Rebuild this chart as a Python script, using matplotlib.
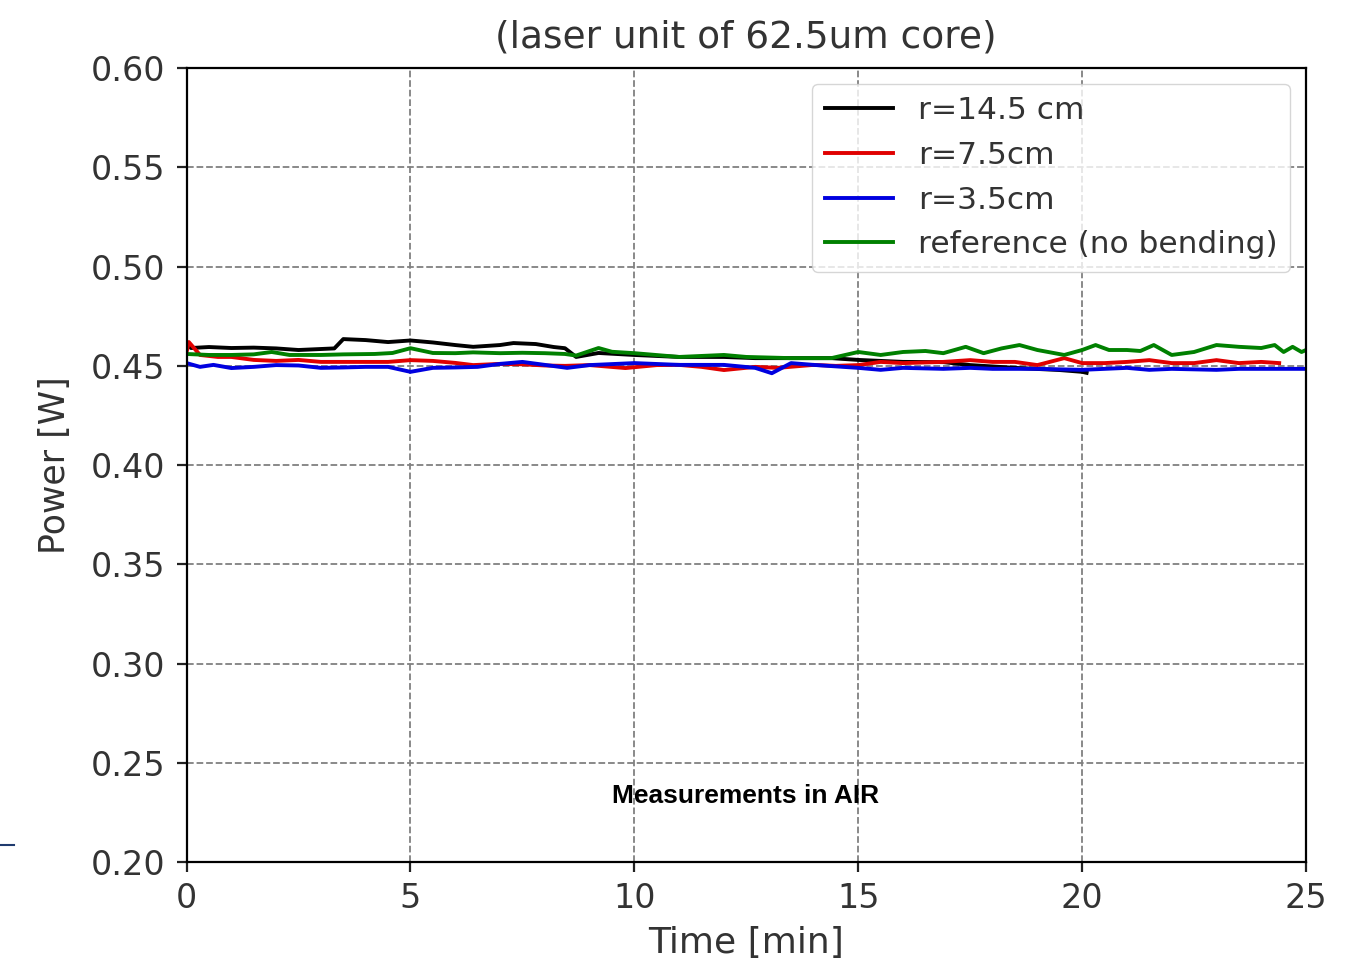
import numpy as np
import matplotlib
matplotlib.use("Agg")
import matplotlib.pyplot as plt
from matplotlib.lines import Line2D

# r = 14.5 cm
t_black = [0, 0.1, 0.5, 1.0, 1.5, 2.0, 2.5, 3.0, 3.3, 3.5, 4.0, 4.5, 5.0, 5.5, 6.0, 6.4,
           7.0, 7.3, 7.8, 8.2, 8.45, 8.7, 9.2, 10, 11, 12, 12.7, 13.5, 14.4, 15, 15.5, 16,
           16.9, 17.5, 18.5, 19.5, 20.0, 20.1]
p_black = [0.461, 0.459, 0.4595, 0.459, 0.4592, 0.4588, 0.458, 0.4585, 0.4588, 0.4635, 0.463,
           0.462, 0.4628, 0.4618, 0.4605, 0.4596, 0.4605, 0.4615, 0.461, 0.4595, 0.4589, 0.4545,
           0.4565, 0.4555, 0.4545, 0.4545, 0.4539, 0.4539, 0.4539, 0.453, 0.4525, 0.452, 0.4519,
           0.4504, 0.449, 0.4479, 0.447, 0.4465]

# r = 7.5 cm
t_red = [0, 0.05, 0.3, 0.7, 1.0, 1.5, 2.0, 2.5, 3.0, 3.5, 4.0, 4.5, 5.0, 5.5, 6.0, 6.4, 7.0,
         7.5, 8.0, 8.45, 9.0, 9.8, 10.5, 11, 11.5, 12, 12.7, 13.2, 14, 14.5, 15, 15.5, 16, 16.9,
         17.5, 18, 18.5, 19, 19.6, 20, 20.5, 21, 21.5, 22, 22.5, 23, 23.5, 24, 24.4]
p_red = [0.457, 0.462, 0.4555, 0.4545, 0.4545, 0.453, 0.4525, 0.453, 0.452, 0.452, 0.452, 0.452,
         0.4529, 0.4525, 0.4515, 0.4504, 0.451, 0.4508, 0.4502, 0.450, 0.4504, 0.4489, 0.4504,
         0.4505, 0.4495, 0.4479, 0.4495, 0.449, 0.4505, 0.450, 0.4504, 0.452, 0.4514, 0.452,
         0.4529, 0.452, 0.452, 0.4504, 0.4539, 0.4514, 0.4514, 0.452, 0.4529, 0.4514, 0.4514,
         0.4529, 0.4514, 0.452, 0.4514]

# r = 3.5 cm
t_blue = [0, 0.3, 0.6, 1.0, 1.5, 2.0, 2.5, 3.0, 3.5, 4.0, 4.5, 5.0, 5.5, 6.0, 6.5, 7.0, 7.5,
          8.0, 8.5, 9, 10, 11, 12, 12.7, 13.07, 13.5, 14, 15, 15.5, 16, 16.9, 17.5, 18, 19, 20,
          20.5, 21, 21.5, 22, 23, 23.5, 24.5, 25]
p_blue = [0.4514, 0.4495, 0.4505, 0.4489, 0.4495, 0.4504, 0.4502, 0.449, 0.4492, 0.4495, 0.4495,
          0.447, 0.449, 0.4492, 0.4495, 0.451, 0.452, 0.4505, 0.449, 0.4504, 0.4514, 0.4505,
          0.4505, 0.449, 0.4463, 0.4514, 0.4505, 0.449, 0.448, 0.449, 0.4485, 0.449, 0.4485,
          0.4485, 0.448, 0.4485, 0.449, 0.448, 0.4485, 0.448, 0.4485, 0.4485, 0.4485]

# reference (no bending)
t_green = [0, 0.5, 1.0, 1.5, 1.9, 2.3, 3.0, 3.5, 4.2, 4.6, 5.0, 5.5, 6.0, 6.4, 7.0, 7.5, 8.0,
           8.45, 8.7, 9.2, 9.5, 10, 11, 12, 12.5, 13.5, 14.4, 15, 15.5, 16, 16.5, 16.9, 17.4,
           17.8, 18.2, 18.6, 19, 19.6, 20, 20.3, 20.6, 21, 21.3, 21.6, 22, 22.5, 23, 23.5, 24,
           24.3, 24.5, 24.7, 24.9, 25]
p_green = [0.456, 0.4555, 0.4555, 0.4558, 0.457, 0.4555, 0.4555, 0.4558, 0.456, 0.4565, 0.4589,
           0.4565, 0.4564, 0.4568, 0.4564, 0.4566, 0.4564, 0.456, 0.4552, 0.459, 0.4571, 0.4564,
           0.4545, 0.4555, 0.4545, 0.4539, 0.4539, 0.457, 0.4555, 0.457, 0.4575, 0.4564, 0.4596,
           0.4564, 0.4588, 0.4605, 0.458, 0.4555, 0.458, 0.4605, 0.458, 0.458, 0.4575, 0.4605,
           0.4555, 0.457, 0.4605, 0.4596, 0.459, 0.4605, 0.457, 0.4596, 0.457, 0.458]

fig = plt.figure(figsize=(13.52, 9.6), dpi=100)
ax = fig.add_axes([0.138, 0.102, 0.828, 0.827])

lw = 2.8
ax.plot(t_black, p_black, color="black", lw=lw, label="r=14.5 cm")
ax.plot(t_red, p_red, color="#e00000", lw=lw, label="r=7.5cm")
ax.plot(t_blue, p_blue, color="#0000e0", lw=lw, label="r=3.5cm")
ax.plot(t_green, p_green, color="green", lw=lw, label="reference (no bending)")

ax.set_xlim(0, 25)
ax.set_ylim(0.20, 0.60)
ax.set_xticks(np.arange(0, 26, 5))
ax.set_yticks(np.arange(0.20, 0.601, 0.05))
ax.set_yticklabels([f"{v:.2f}" for v in np.arange(0.20, 0.601, 0.05)])
ax.tick_params(labelsize=24, width=1.6, length=7, colors="#222222", labelcolor="#333333")
ax.tick_params(axis="y", pad=8.5)
ax.tick_params(axis="x", pad=7)
for s in ax.spines.values():
    s.set_linewidth(1.6)
ax.grid(True, linestyle="--", color="gray", lw=1.3)

ax.set_xlabel("Time [min]", fontsize=26, labelpad=8, color="#333333")
ax.set_ylabel("Power [W]", fontsize=25, labelpad=13, color="#333333")
ax.set_title("(laser unit of 62.5um core)", fontsize=27, pad=15, color="#333333")

leg = ax.legend(loc="upper right", fontsize=22.5, handlelength=2.2, borderpad=0.4,
                labelspacing=0.5, handletextpad=0.8, framealpha=0.8)
for txt in leg.get_texts():
    txt.set_color("#333333")

ax.text(12.49, 0.2333, "Measurements in AIR", fontsize=19, fontweight="bold",
        family="Liberation Sans", ha="center", va="center")

fig.add_artist(Line2D([0, 0.0104], [0.1198, 0.1198], color="#1f3a6e", lw=1.5,
                      transform=fig.transFigure))

fig.savefig("out.png", dpi=100)
